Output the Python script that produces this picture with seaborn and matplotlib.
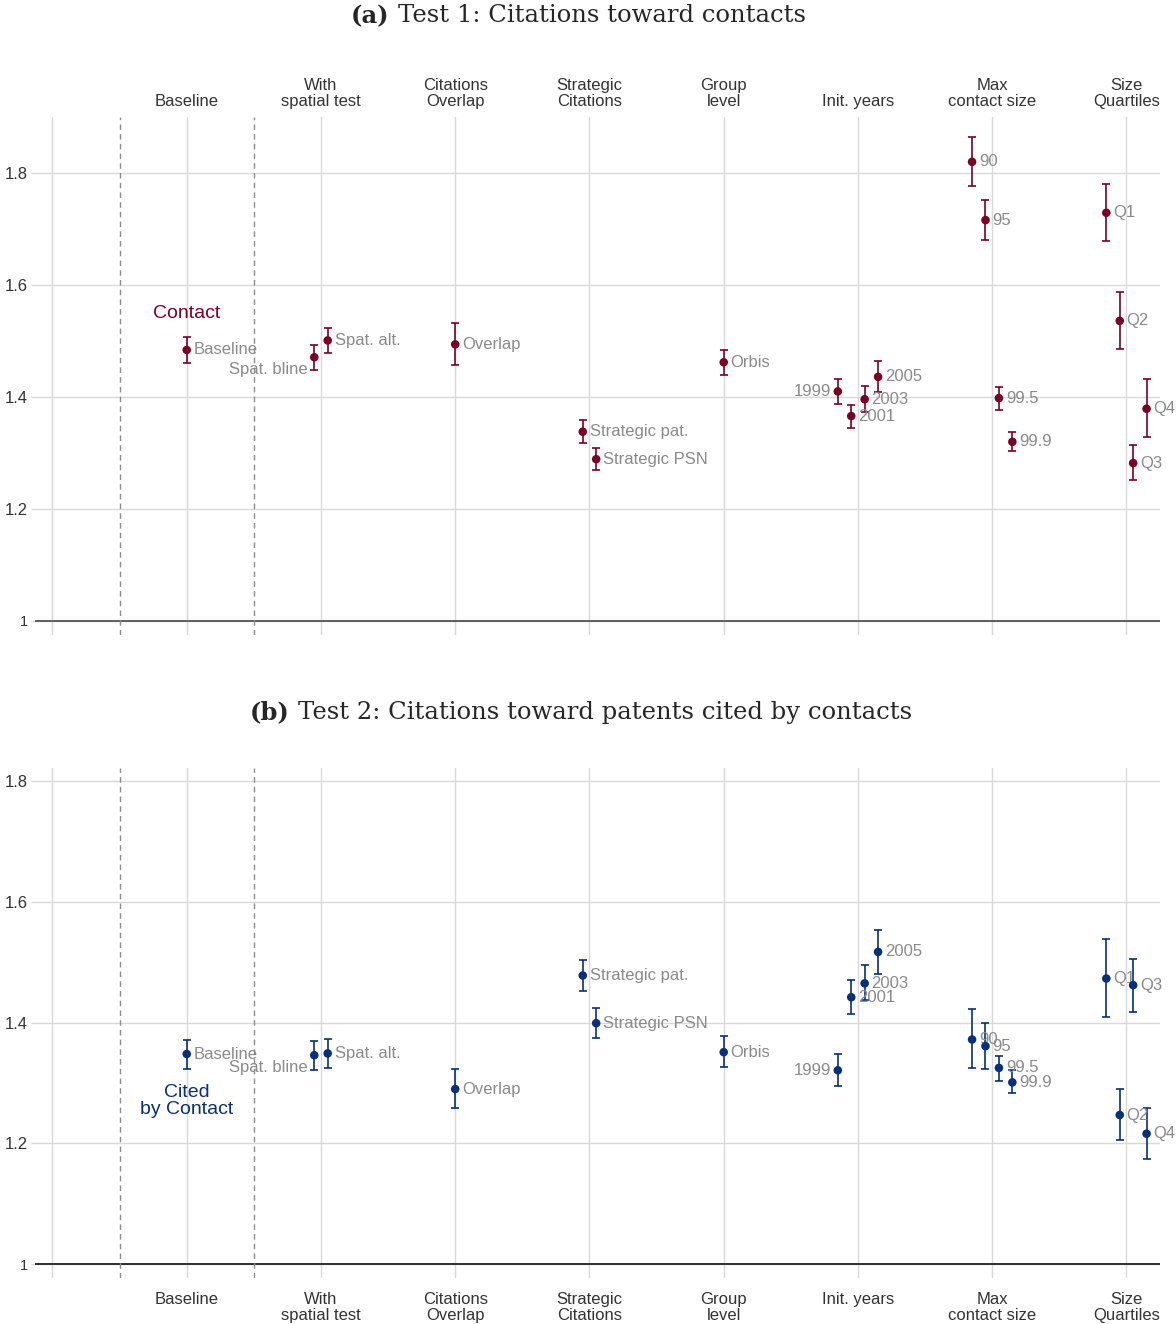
import matplotlib
matplotlib.use('Agg')
import matplotlib.pyplot as plt
import seaborn as sns
import pandas as pd
import numpy as np

# x-axis groups (position 0 is an empty slot)
groups = ['', 'Baseline', 'With\nspatial test', 'Citations\nOverlap', 'Strategic\nCitations',
          'Group\nlevel', 'Init. years', 'Max\ncontact size', 'Size\nQuartiles']

labels = ['Baseline', 'Spat. bline', 'Spat. alt.', 'Overlap', 'Strategic pat.', 'Strategic PSN',
          'Orbis', '1999', '2001', '2003', '2005', '90', '95', '99.5', '99.9',
          'Q1', 'Q2', 'Q3', 'Q4']
group_idx = [1, 2, 2, 3, 4, 4, 5, 6, 6, 6, 6, 7, 7, 7, 7, 8, 8, 8, 8]
slot = [0, -0.5, 0.5, 0, -0.5, 0.5, 0, -1.5, -0.5, 0.5, 1.5,
        -1.5, -0.5, 0.5, 1.5, -1.5, -0.5, 0.5, 1.5]

# Test 1: citations toward contacts
est_a = [1.484, 1.471, 1.501, 1.494, 1.338, 1.289, 1.462, 1.410, 1.366, 1.396, 1.436,
         1.820, 1.716, 1.398, 1.320, 1.729, 1.536, 1.282, 1.379]
lo_a = [1.461, 1.448, 1.479, 1.458, 1.317, 1.270, 1.440, 1.387, 1.344, 1.373, 1.409,
        1.776, 1.681, 1.377, 1.304, 1.679, 1.486, 1.251, 1.329]
hi_a = [1.507, 1.493, 1.524, 1.532, 1.359, 1.309, 1.484, 1.433, 1.386, 1.419, 1.465,
        1.864, 1.751, 1.418, 1.338, 1.780, 1.588, 1.315, 1.432]

# Test 2: citations toward patents cited by contacts
est_b = [1.348, 1.346, 1.349, 1.290, 1.478, 1.399, 1.351, 1.321, 1.442, 1.465, 1.517,
         1.372, 1.361, 1.325, 1.301, 1.473, 1.247, 1.462, 1.216]
lo_b = [1.323, 1.322, 1.325, 1.258, 1.453, 1.374, 1.326, 1.295, 1.414, 1.437, 1.481,
        1.324, 1.323, 1.304, 1.284, 1.410, 1.205, 1.418, 1.174]
hi_b = [1.372, 1.370, 1.373, 1.323, 1.504, 1.424, 1.377, 1.348, 1.471, 1.496, 1.553,
        1.422, 1.400, 1.345, 1.321, 1.539, 1.290, 1.506, 1.259]

left_labels = ['Spat. bline', '1999']
yticks = [1, 1.2, 1.4, 1.6, 1.8]
ytick_labels = ['1', '1.2', '1.4', '1.6', '1.8']

DODGE = 0.1
RED = '#7d0022'
BLUE = '#062f80'

sns.set_theme(style='whitegrid')
plt.rcParams['font.family'] = ['Liberation Sans', 'DejaVu Sans']


def make_df(est, lo, hi):
    df = pd.DataFrame({'label': labels, 'group': group_idx, 'slot': slot,
                       'est': est, 'lo': lo, 'hi': hi})
    df['x'] = df['group'] + df['slot'] * DODGE
    return df


def draw_panel(ax, df, color, ylim, top_labels, zero_color):
    ax.set_xlim(-0.13, 8.25)
    ax.set_ylim(*ylim)
    ax.grid(True, color='#d9d9d9', lw=1.0)
    ax.set_axisbelow(True)
    for s in ax.spines.values():
        s.set_visible(False)

    ax.axhline(1, color=zero_color, lw=1.3, zorder=2)
    for xv in [0.5, 1.5]:
        ax.axvline(xv, color='#8c8c8c', lw=1.0, ls=(0, (4, 3)), zorder=2)

    ax.errorbar(df['x'], df['est'], yerr=[df['est'] - df['lo'], df['hi'] - df['est']],
                fmt='none', ecolor=color, elinewidth=1.2, capsize=2.8, capthick=1.2, zorder=3)
    sns.scatterplot(data=df, x='x', y='est', color=color, s=38, edgecolor='none',
                    ax=ax, zorder=4, legend=False)

    for _, r in df.iterrows():
        if r['label'] in left_labels:
            dy = -9 if r['label'] == 'Spat. bline' else 0
            ax.annotate(r['label'], (r['x'], r['est']), xytext=(-5, dy), textcoords='offset points',
                        ha='right', va='center', color='#8a8a8a', fontsize=12)
        else:
            ax.annotate(r['label'], (r['x'], r['est']), xytext=(5, 0), textcoords='offset points',
                        ha='left', va='center', color='#8a8a8a', fontsize=12)

    ax.set_xticks(range(len(groups)))
    ax.set_xticklabels(groups, fontsize=12, color='#333333', linespacing=1.1)
    ax.set_yticks(yticks)
    ax.set_yticklabels(ytick_labels, fontsize=12, color='#333333')
    ax.get_yticklabels()[0].set_fontsize(10.5)
    ax.tick_params(axis='y', length=3, width=1, color='#d9d9d9', pad=2, left=True)
    if top_labels:
        ax.xaxis.tick_top()
        ax.tick_params(axis='x', length=0, pad=6)
    else:
        ax.tick_params(axis='x', length=0, pad=10)
    ax.set_xlabel('')
    ax.set_ylabel('')


df_a = make_df(est_a, lo_a, hi_a)
df_b = make_df(est_b, lo_b, hi_b)

fig = plt.figure(figsize=(11.76, 13.24), dpi=100)
ax1 = fig.add_axes([0.0298, 0.5204, 0.9566, 0.3912])
ax2 = fig.add_axes([0.0298, 0.0347, 0.9566, 0.3852])

draw_panel(ax1, df_a, RED, (0.975, 1.9), True, '#555555')
draw_panel(ax2, df_b, BLUE, (0.977, 1.8215), False, '#222222')

ax1.text(1, 1.55, 'Contact', color=RED, fontsize=14, ha='center', va='center')
ax2.text(1, 1.270, 'Cited\nby Contact', color=BLUE, fontsize=14, ha='center', va='center',
         linespacing=0.95)

serif = ['DejaVu Serif']
fig.text(389 / 1176, 1 - 16 / 1324, '(a)', fontweight='bold', fontsize=17.5, family=serif,
         ha='right', va='center')
fig.text(398 / 1176, 1 - 16 / 1324, 'Test 1: Citations toward contacts', fontsize=17.5,
         family=serif, ha='left', va='center')
fig.text(289 / 1176, 1 - 712 / 1324, '(b)', fontweight='bold', fontsize=17.5, family=serif,
         ha='right', va='center')
fig.text(298 / 1176, 1 - 712 / 1324, 'Test 2: Citations toward patents cited by contacts',
         fontsize=17.5, family=serif, ha='left', va='center')

fig.savefig('out.png', dpi=100)
